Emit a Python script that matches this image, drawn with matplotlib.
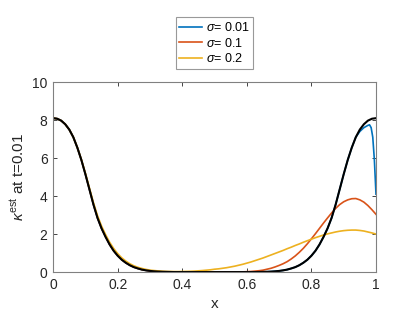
import numpy as np
import matplotlib
matplotlib.use("Agg")
import matplotlib.pyplot as plt

plt.rcParams['font.family'] = ['Liberation Sans', 'DejaVu Sans']
plt.rcParams['mathtext.fontset'] = 'custom'
plt.rcParams['mathtext.rm'] = 'Liberation Sans'
plt.rcParams['mathtext.it'] = 'Liberation Sans:italic'

# grid of x values (step 0.0125)
x = [round(0.0125 * i, 4) for i in range(81)]

# exact curve (black)
kappa_exact = [8.1, 8.07, 7.97, 7.78, 7.5, 7.1, 6.55, 5.9, 5.15, 4.35,
               3.55, 2.85, 2.3, 1.85, 1.45, 1.12, 0.86, 0.65, 0.49, 0.36,
               0.26, 0.19, 0.13, 0.09, 0.06, 0.04, 0.025, 0.015, 0.01, 0.005,
               0, 0, 0, 0, 0, 0, 0, 0, 0, 0,
               0, 0, 0, 0, 0, 0, 0, 0, 0, 0,
               0, 0.005, 0.01, 0.015, 0.025, 0.04, 0.06, 0.09, 0.13, 0.19,
               0.26, 0.36, 0.49, 0.65, 0.86, 1.12, 1.45, 1.85, 2.3, 2.85,
               3.55, 4.35, 5.15, 5.9, 6.55, 7.1, 7.5, 7.78, 7.97, 8.07, 8.1]

# sigma = 0.01 (extra points near x = 1)
x_s001 = x[:79] + [0.98, 0.985, 0.99, 0.995, 1.0]
kappa_s001 = kappa_exact[:76] + [7.4, 7.6, 7.72, 7.75, 7.6, 7.1, 5.9, 4.1]

# sigma = 0.1
kappa_s01 = [8.1, 8.07, 7.97, 7.78, 7.5, 7.1, 6.55, 5.9, 5.15, 4.35,
             3.55, 2.85, 2.3, 1.85, 1.45, 1.12, 0.86, 0.65, 0.49, 0.36,
             0.26, 0.19, 0.13, 0.09, 0.06, 0.04, 0.025, 0.015, 0.01, 0.005,
             0, 0, 0, 0, 0, 0, 0, 0, 0, 0,
             0, 0, 0, 0, 0, 0, 0.005, 0.01, 0.02, 0.03,
             0.05, 0.07, 0.1, 0.15, 0.2, 0.27, 0.35, 0.44, 0.55, 0.69,
             0.85, 1.04, 1.25, 1.49, 1.75, 2.02, 2.3, 2.58, 2.85, 3.11,
             3.35, 3.55, 3.7, 3.8, 3.86, 3.87, 3.8, 3.68, 3.5, 3.28, 3.04]

# sigma = 0.2
kappa_s02 = [8.1, 8.07, 7.97, 7.78, 7.5, 7.1, 6.56, 5.92, 5.2, 4.42,
             3.65, 2.97, 2.42, 1.97, 1.57, 1.24, 0.97, 0.75, 0.58, 0.44,
             0.33, 0.25, 0.19, 0.14, 0.1, 0.08, 0.06, 0.045, 0.035, 0.03,
             0.025, 0.025, 0.03, 0.035, 0.04, 0.05, 0.065, 0.08, 0.1, 0.12,
             0.15, 0.17, 0.2, 0.23, 0.27, 0.31, 0.36, 0.41, 0.47, 0.53,
             0.6, 0.67, 0.74, 0.82, 0.9, 0.98, 1.06, 1.14, 1.23, 1.31,
             1.4, 1.48, 1.57, 1.65, 1.73, 1.81, 1.88, 1.95, 2.01, 2.06,
             2.11, 2.15, 2.18, 2.2, 2.21, 2.21, 2.19, 2.16, 2.11, 2.06, 2.0]

labels = [r'$\sigma$= 0.01', r'$\sigma$= 0.1', r'$\sigma$= 0.2']
colors = ['#0072BD', '#D95319', '#EDB120']

fig = plt.figure(figsize=(4.15, 3.12), dpi=100)
ax = fig.add_axes([0.128, 0.128, 0.778, 0.609])

ax.plot(x_s001, kappa_s001, color=colors[0], lw=1.2, label=labels[0])
ax.plot(x, kappa_s01, color=colors[1], lw=1.2, label=labels[1])
ax.plot(x, kappa_s02, color=colors[2], lw=1.2, label=labels[2])
ax.plot(x, kappa_exact, color='black', lw=1.5)

ax.set_xlim(0, 1)
ax.set_ylim(0, 10)
ax.set_xticks([0, 0.2, 0.4, 0.6, 0.8, 1])
ax.set_xticklabels(['0', '0.2', '0.4', '0.6', '0.8', '1'])
ax.set_yticks([0, 2, 4, 6, 8, 10])
ax.tick_params(direction='in', length=3, width=0.6, top=True, right=True,
               labelsize=10, colors='#262626', pad=4)
for sp in ax.spines.values():
    sp.set_color('#808080')
    sp.set_linewidth(0.8)

ax.set_xlabel('x', fontsize=11, color='#262626')
ax.set_ylabel(r'$\kappa^{\mathrm{est}}$ at t=0.01', fontsize=11, color='#262626')

leg = ax.legend(loc='lower center', bbox_to_anchor=(0.5, 1.07), fontsize=9,
                frameon=True, fancybox=False, handlelength=1.8,
                borderaxespad=0, labelspacing=0.2, handletextpad=0.3,
                borderpad=0.3)
leg.get_frame().set_edgecolor('#808080')
leg.get_frame().set_linewidth(0.8)

plt.savefig('out.png', dpi=100)
plt.close()
